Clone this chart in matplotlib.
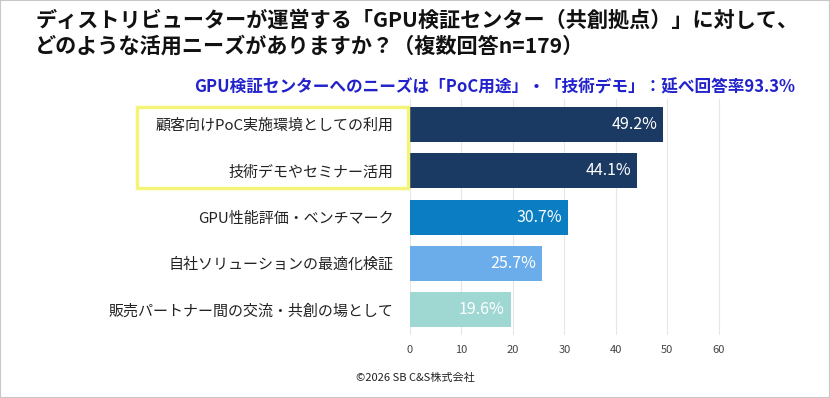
import matplotlib
matplotlib.use("Agg")
import matplotlib.pyplot as plt
from matplotlib.patches import Rectangle

plt.rcParams['font.family'] = ['Noto Sans CJK JP', 'DejaVu Sans']

# データ
categories = [
    "顧客向けPoC実施環境としての利用",
    "技術デモやセミナー活用",
    "GPU性能評価・ベンチマーク",
    "自社ソリューションの最適化検証",
    "販売パートナー間の交流・共創の場として",
]
values = [49.2, 44.1, 30.7, 25.7, 19.6]
bar_colors = ["#1B3A63", "#1B3A63", "#0B7DC3", "#6AADEA", "#9FD8D3"]
x_ticks = [0, 10, 20, 30, 40, 50, 60]

title = ("ディストリビューターが運営する「GPU検証センター（共創拠点）」に対して、\n"
         "どのような活用ニーズがありますか？（複数回答n=179）")
subtitle = "GPU検証センターへのニーズは「PoC用途」・「技術デモ」：延べ回答率93.3%"
credit = "©2026 SB C&S株式会社"

fig = plt.figure(figsize=(8.3, 3.98), dpi=100)
ax = fig.add_axes([0.494, 0.158, 0.403, 0.593])

y = list(range(len(categories)))
ax.barh(y, values, height=0.76, color=bar_colors, zorder=2)

# バー内の数値ラベル
for yi, v in zip(y, values):
    ax.text(v - 1.2, yi, f"{v:.1f}%", ha='right', va='center',
            color='white', fontsize=11.5, zorder=3)

ax.set_yticks(y)
ax.set_yticklabels(categories, fontsize=10.8, color='#222222')
ax.set_ylim(4.55, -0.55)
ax.set_xlim(0, 65)
ax.set_xticks(x_ticks)
ax.set_xticklabels([str(t) for t in x_ticks], fontsize=8, color='#444444')
ax.tick_params(axis='both', length=0)
ax.tick_params(axis='y', pad=12)
ax.tick_params(axis='x', pad=7)
ax.grid(axis='x', color='#E6E6E6', linewidth=0.8, zorder=0)
ax.set_axisbelow(True)
for s in ax.spines.values():
    s.set_visible(False)

# タイトル・サブタイトル
fig.text(35 / 830, 1 - 10 / 398, title, ha='left', va='top',
         fontsize=15.2, fontweight='bold', color='#111111', linespacing=1.3)
fig.text(795 / 830, 1 - 88 / 398, subtitle, ha='right', va='center',
         fontsize=12, fontweight='bold', color='#2222CC')

# 強調枠（上位2項目）
fig.add_artist(Rectangle((137 / 830, 1 - 188 / 398), 271 / 830, 81 / 398,
                         transform=fig.transFigure, fill=False,
                         edgecolor='#F4F47A', linewidth=2.5, zorder=5))

fig.text(415 / 830, 1 - 378 / 398, credit, ha='center', va='center',
         fontsize=8, color='#222222')

# 外枠
fig.add_artist(Rectangle((0, 0), 1, 1, transform=fig.transFigure, fill=False,
                         edgecolor='#C8C8C8', linewidth=1.5))

fig.savefig("out.png", dpi=100, facecolor='white')
